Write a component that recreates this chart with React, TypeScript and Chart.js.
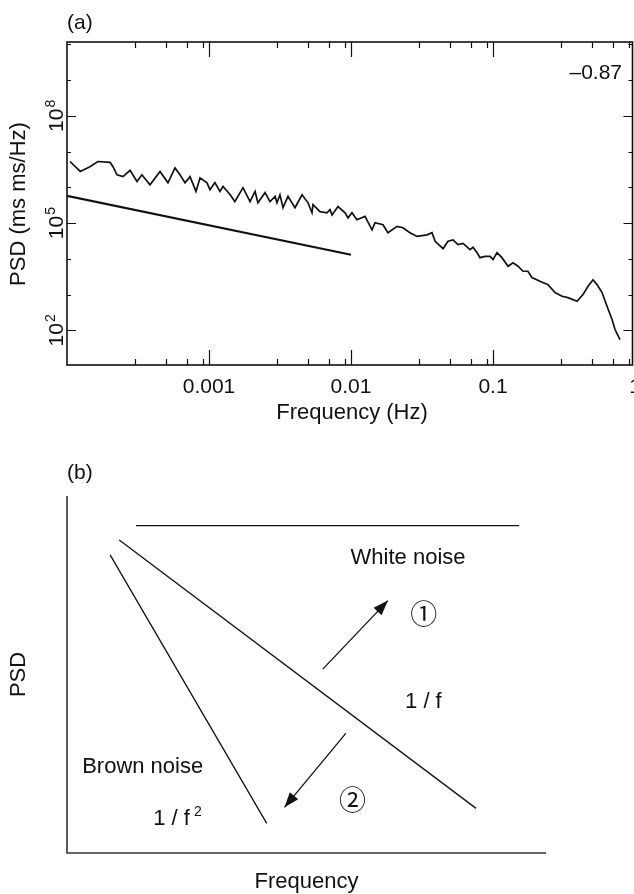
import React, { useEffect, useRef } from 'react';
import { Chart, registerables } from 'chart.js';

Chart.register(...registerables);

const FONT = '"Liberation Sans", Arial, Helvetica, sans-serif';
const INK = '#111111';

// ---------- Panel (a): measured PSD ----------
const freqHz = [
  1.05e-4, 1.24e-4, 1.45e-4, 1.65e-4, 2.01e-4, 2.11e-4, 2.25e-4, 2.48e-4, 2.78e-4, 3.11e-4,
  3.37e-4, 3.84e-4, 4.52e-4, 5.14e-4, 5.76e-4, 6.25e-4, 6.78e-4, 7.35e-4, 8.1e-4, 8.65e-4,
  9.68e-4, 1.016e-3, 1.1e-3, 1.195e-3, 1.255e-3, 1.41e-3, 1.52e-3, 1.735e-3, 1.945e-3, 2.11e-3,
  2.21e-3, 2.48e-3, 2.69e-3, 2.92e-3, 3.01e-3, 3.16e-3, 3.32e-3, 3.6e-3, 4.03e-3, 4.52e-3,
  4.98e-3, 5.31e-3, 5.4e-3, 6.05e-3, 6.78e-3, 7.11e-3, 7.35e-3, 8.1e-3, 9.08e-3, 9.53e-3,
  1.016e-2, 1.1e-2, 1.255e-2, 1.406e-2, 1.476e-2, 1.68e-2, 1.82e-2, 2.11e-2, 2.32e-2, 2.6e-2,
  2.92e-2, 3.43e-2, 3.72e-2, 3.91e-2, 4.45e-2, 4.82e-2, 5.23e-2, 5.67e-2, 6.15e-2, 6.89e-2,
  7.23e-2, 7.71e-2, 8.1e-2, 8.79e-2, 9.53e-2, 0.1, 0.1067, 0.1156, 0.1276, 0.1383,
  0.15, 0.1626, 0.176, 0.188, 0.214, 0.244, 0.2735, 0.306, 0.337, 0.391,
  0.43, 0.467, 0.506, 0.54, 0.586, 0.635, 0.689, 0.723, 0.784,
];
const psdValues = [
  5.3e6, 2.8e6, 3.8e6, 5.3e6, 5.0e6, 3.8e6, 2.25e6, 2.0e6, 3.0e6, 1.46e6,
  2.25e6, 1.18e6, 2.8e6, 1.34e6, 3.5e6, 2.25e6, 1.34e6, 2.0e6, 7.7e5, 1.85e6,
  1.34e6, 8.6e5, 1.37e6, 7.7e5, 1.06e6, 6.2e5, 4.0e5, 9.8e5, 4.0e5, 7.7e5,
  3.7e5, 7.1e5, 4.0e5, 5.6e5, 3.7e5, 6.2e5, 2.7e5, 5.6e5, 2.7e5, 6.2e5,
  3.7e5, 1.95e5, 3.3e5, 2.1e5, 1.95e5, 2.4e5, 1.7e5, 2.9e5, 1.95e5, 1.4e5,
  1.95e5, 1.24e5, 1.54e5, 6.5e4, 1.03e5, 9.0e4, 5.4e4, 8.1e4, 7.4e4, 5.4e4,
  4.25e4, 4.7e4, 5.4e4, 3.1e4, 1.93e4, 3.1e4, 3.4e4, 2.5e4, 2.7e4, 1.8e4,
  2.1e4, 1.5e4, 1.08e4, 1.17e4, 1.17e4, 9.5e3, 1.5e4, 1.08e4, 6.2e3, 7.8e3,
  6.2e3, 4.5e3, 4.5e3, 3.0e3, 2.35e3, 1.9e3, 1.14e3, 9.0e2, 8.2e2, 6.5e2,
  1.0e3, 1.7e3, 2.6e3, 1.9e3, 1.14e3, 4.7e2, 2.0e2, 1.05e2, 55,
];
const fitFreqHz = [0.0001, 0.01];
const fitPsd = [5.8e5, 1.3e4];
const slopeText = '\u20130.87';
const xTickValues = [0.001, 0.01, 0.1, 1];
const xTickLabels = ['0.001', '0.01', '0.1', '1'];
const xDecades = [-4, -3, -2, -1, 0];
const xMinorMultipliers = [3, 5, 7, 9];
const yTickExponents = [2, 3, 4, 5, 6, 7, 8, 9, 10];
const yLabelExponents = [2, 5, 8];

// ---------- Panel (b): schematic ----------
const whiteX = [14.4, 94.4];
const whiteY = [91.7, 91.7];
const pinkX = [10.9, 85.4];
const pinkY = [87.7, 12.5];
const brownX = [9.0, 41.7];
const brownY = [83.5, 8.3];
const arrowUpX = [53.4, 67.0];
const arrowUpY = [51.5, 70.7];
const arrowDownX = [58.2, 45.4];
const arrowDownY = [33.5, 12.8];
const bTexts = [
  { text: 'White noise', x: 71.2, y: 80.9 },
  { text: '1 / f', x: 74.4, y: 40.6 },
  { text: 'Brown noise', x: 15.8, y: 22.4 },
];
const brownSlopeLabel = { text: '1 / f', sup: '2', x: 18.0, y: 7.9 };
const circledLabels = [
  { text: '\u2460', x: 74.5, y: 67.0 },
  { text: '\u2461', x: 59.6, y: 15.0 },
];

const toPoints = (xs: number[], ys: number[]) => xs.map((x, i) => ({ x, y: ys[i] }));

const panelAPlugin = {
  id: 'panelA',
  afterDatasetsDraw(chart: any) {
    const { ctx, chartArea: a, scales } = chart;
    const xs = scales.x;
    const ys = scales.y;
    ctx.save();
    ctx.strokeStyle = INK;
    ctx.fillStyle = INK;
    ctx.lineWidth = 1.6;
    ctx.strokeRect(a.left, a.top, a.right - a.left, a.bottom - a.top);

    // x ticks (inward, bottom and top)
    ctx.lineWidth = 1.2;
    ctx.beginPath();
    xDecades.forEach((d) => {
      const base = Math.pow(10, d);
      [1, ...xMinorMultipliers].forEach((m) => {
        const v = m * base;
        if (v <= xs.min * 1.0001 || v >= xs.max) return;
        const px = Math.round(xs.getPixelForValue(v)) + 0.5;
        const len = m === 1 ? 15 : 6;
        ctx.moveTo(px, a.bottom);
        ctx.lineTo(px, a.bottom - len);
        ctx.moveTo(px, a.top);
        ctx.lineTo(px, a.top + len);
      });
    });
    // y ticks (inward, left and right)
    yTickExponents.forEach((e) => {
      const v = Math.pow(10, e);
      if (v <= ys.min || v >= ys.max) return;
      const py = Math.round(ys.getPixelForValue(v)) + 0.5;
      const len = yLabelExponents.includes(e) ? 9 : 4;
      ctx.moveTo(a.left, py);
      ctx.lineTo(a.left + len, py);
      ctx.moveTo(a.right, py);
      ctx.lineTo(a.right - len, py);
    });
    ctx.stroke();

    // x tick labels
    ctx.font = `21px ${FONT}`;
    ctx.textAlign = 'center';
    ctx.textBaseline = 'alphabetic';
    xTickValues.forEach((v, i) => {
      ctx.fillText(xTickLabels[i], xs.getPixelForValue(v), 393);
    });

    // y tick labels (rotated, power of ten)
    yLabelExponents.forEach((e) => {
      const py = ys.getPixelForValue(Math.pow(10, e));
      ctx.save();
      ctx.translate(63, py);
      ctx.rotate(-Math.PI / 2);
      ctx.textAlign = 'left';
      ctx.font = `21px ${FONT}`;
      const w1 = ctx.measureText('10').width;
      ctx.font = `14px ${FONT}`;
      const sup = String(e);
      const w2 = ctx.measureText(sup).width;
      const start = -(w1 + w2 + 1) / 2;
      ctx.font = `21px ${FONT}`;
      ctx.fillText('10', start, 0);
      ctx.font = `14px ${FONT}`;
      ctx.fillText(sup, start + w1 + 1, -8);
      ctx.restore();
    });

    // slope annotation
    ctx.font = `21px ${FONT}`;
    ctx.textAlign = 'right';
    ctx.fillText(slopeText, 622, 79);

    // panel letter
    ctx.textAlign = 'left';
    ctx.fillText('(a)', 67, 29);

    // axis titles
    ctx.font = `22px ${FONT}`;
    ctx.textAlign = 'center';
    ctx.fillText('Frequency (Hz)', 352, 419);
    ctx.save();
    ctx.translate(25, 204);
    ctx.rotate(-Math.PI / 2);
    ctx.fillText('PSD (ms ms/Hz)', 0, 0);
    ctx.restore();
    ctx.restore();
  },
};

const drawArrowHead = (ctx: any, fromX: number, fromY: number, toX: number, toY: number) => {
  const ang = Math.atan2(toY - fromY, toX - fromX);
  const len = 15;
  const half = 5.5;
  const bx = toX - len * Math.cos(ang);
  const by = toY - len * Math.sin(ang);
  ctx.beginPath();
  ctx.moveTo(toX, toY);
  ctx.lineTo(bx + half * Math.sin(ang), by - half * Math.cos(ang));
  ctx.lineTo(bx - half * Math.sin(ang), by + half * Math.cos(ang));
  ctx.closePath();
  ctx.fill();
};

const panelBPlugin = {
  id: 'panelB',
  afterDatasetsDraw(chart: any) {
    const { ctx, chartArea: a, scales } = chart;
    const xs = scales.x;
    const ys = scales.y;
    ctx.save();
    // axes: left and bottom only
    ctx.strokeStyle = '#333333';
    ctx.lineWidth = 1.6;
    ctx.beginPath();
    ctx.moveTo(a.left, a.top);
    ctx.lineTo(a.left, a.bottom);
    ctx.lineTo(a.right, a.bottom);
    ctx.stroke();

    // arrow heads
    ctx.fillStyle = INK;
    [
      [arrowUpX, arrowUpY],
      [arrowDownX, arrowDownY],
    ].forEach(([ax, ay]) => {
      drawArrowHead(
        ctx,
        xs.getPixelForValue(ax[0]),
        ys.getPixelForValue(ay[0]),
        xs.getPixelForValue(ax[1]),
        ys.getPixelForValue(ay[1]),
      );
    });

    // texts
    ctx.fillStyle = INK;
    ctx.font = `22px ${FONT}`;
    ctx.textAlign = 'center';
    ctx.textBaseline = 'alphabetic';
    bTexts.forEach((t) => {
      ctx.fillText(t.text, xs.getPixelForValue(t.x), ys.getPixelForValue(t.y));
    });
    // 1 / f^2
    ctx.textAlign = 'left';
    const bx = xs.getPixelForValue(brownSlopeLabel.x);
    const by = ys.getPixelForValue(brownSlopeLabel.y);
    ctx.fillText(brownSlopeLabel.text, bx, by);
    const w = ctx.measureText(brownSlopeLabel.text).width;
    ctx.font = `14px ${FONT}`;
    ctx.fillText(brownSlopeLabel.sup, bx + w + 4, by - 8.5);

    // circled numbers
    ctx.font = `27px "Noto Sans CJK JP", "DejaVu Sans", sans-serif`;
    ctx.textAlign = 'center';
    ctx.textBaseline = 'middle';
    circledLabels.forEach((c) => {
      ctx.fillText(c.text, xs.getPixelForValue(c.x), ys.getPixelForValue(c.y));
    });

    // panel letter and axis titles
    ctx.font = `21px ${FONT}`;
    ctx.textAlign = 'left';
    ctx.textBaseline = 'alphabetic';
    ctx.fillText('(b)', 67, 39);
    ctx.font = `22px ${FONT}`;
    ctx.textAlign = 'center';
    ctx.fillText('Frequency', (a.left + a.right) / 2, 448);
    ctx.save();
    ctx.translate(25, (a.top + a.bottom) / 2);
    ctx.rotate(-Math.PI / 2);
    ctx.fillText('PSD', 0, 0);
    ctx.restore();
    ctx.restore();
  },
};

const lineStyle = (width: number) => ({
  borderColor: INK,
  borderWidth: width,
  pointRadius: 0,
  pointHoverRadius: 0,
  tension: 0,
  fill: false,
});

export default function App() {
  const refA = useRef<HTMLCanvasElement>(null);
  const refB = useRef<HTMLCanvasElement>(null);

  useEffect(() => {
    const chartA = new Chart(refA.current as HTMLCanvasElement, {
      type: 'line',
      data: {
        datasets: [
          { data: toPoints(freqHz, psdValues), ...lineStyle(1.7) } as any,
          { data: toPoints(fitFreqHz, fitPsd), ...lineStyle(2.2) } as any,
        ],
      },
      options: {
        animation: false,
        responsive: false,
        events: [],
        layout: { padding: { left: 67, right: 1.5, top: 42, bottom: 75 } },
        plugins: { legend: { display: false }, tooltip: { enabled: false } },
        scales: {
          x: { type: 'logarithmic', min: 1e-4, max: 0.96, display: false },
          y: { type: 'logarithmic', min: 10.7, max: 1.17e10, display: false },
        },
      },
      plugins: [panelAPlugin],
    });

    const chartB = new Chart(refB.current as HTMLCanvasElement, {
      type: 'line',
      data: {
        datasets: [
          { data: toPoints(whiteX, whiteY), ...lineStyle(1.3) } as any,
          { data: toPoints(pinkX, pinkY), ...lineStyle(1.3) } as any,
          { data: toPoints(brownX, brownY), ...lineStyle(1.3) } as any,
          { data: toPoints(arrowUpX, arrowUpY), ...lineStyle(1.3) } as any,
          { data: toPoints(arrowDownX, arrowDownY), ...lineStyle(1.3) } as any,
        ],
      },
      options: {
        animation: false,
        responsive: false,
        events: [],
        layout: { padding: { left: 67, right: 88, top: 56, bottom: 41 } },
        plugins: { legend: { display: false }, tooltip: { enabled: false } },
        scales: {
          x: { type: 'linear', min: 0, max: 100, display: false },
          y: { type: 'linear', min: 0, max: 100, display: false },
        },
      },
      plugins: [panelBPlugin],
    });

    return () => {
      chartA.destroy();
      chartB.destroy();
    };
  }, []);

  return (
    <div style={{ position: 'absolute', left: 0, top: 0, width: 634, height: 894, background: '#fff' }}>
      <canvas ref={refA} width={634} height={440} style={{ display: 'block', width: 634, height: 440 }} />
      <canvas ref={refB} width={634} height={454} style={{ display: 'block', width: 634, height: 454 }} />
    </div>
  );
}
